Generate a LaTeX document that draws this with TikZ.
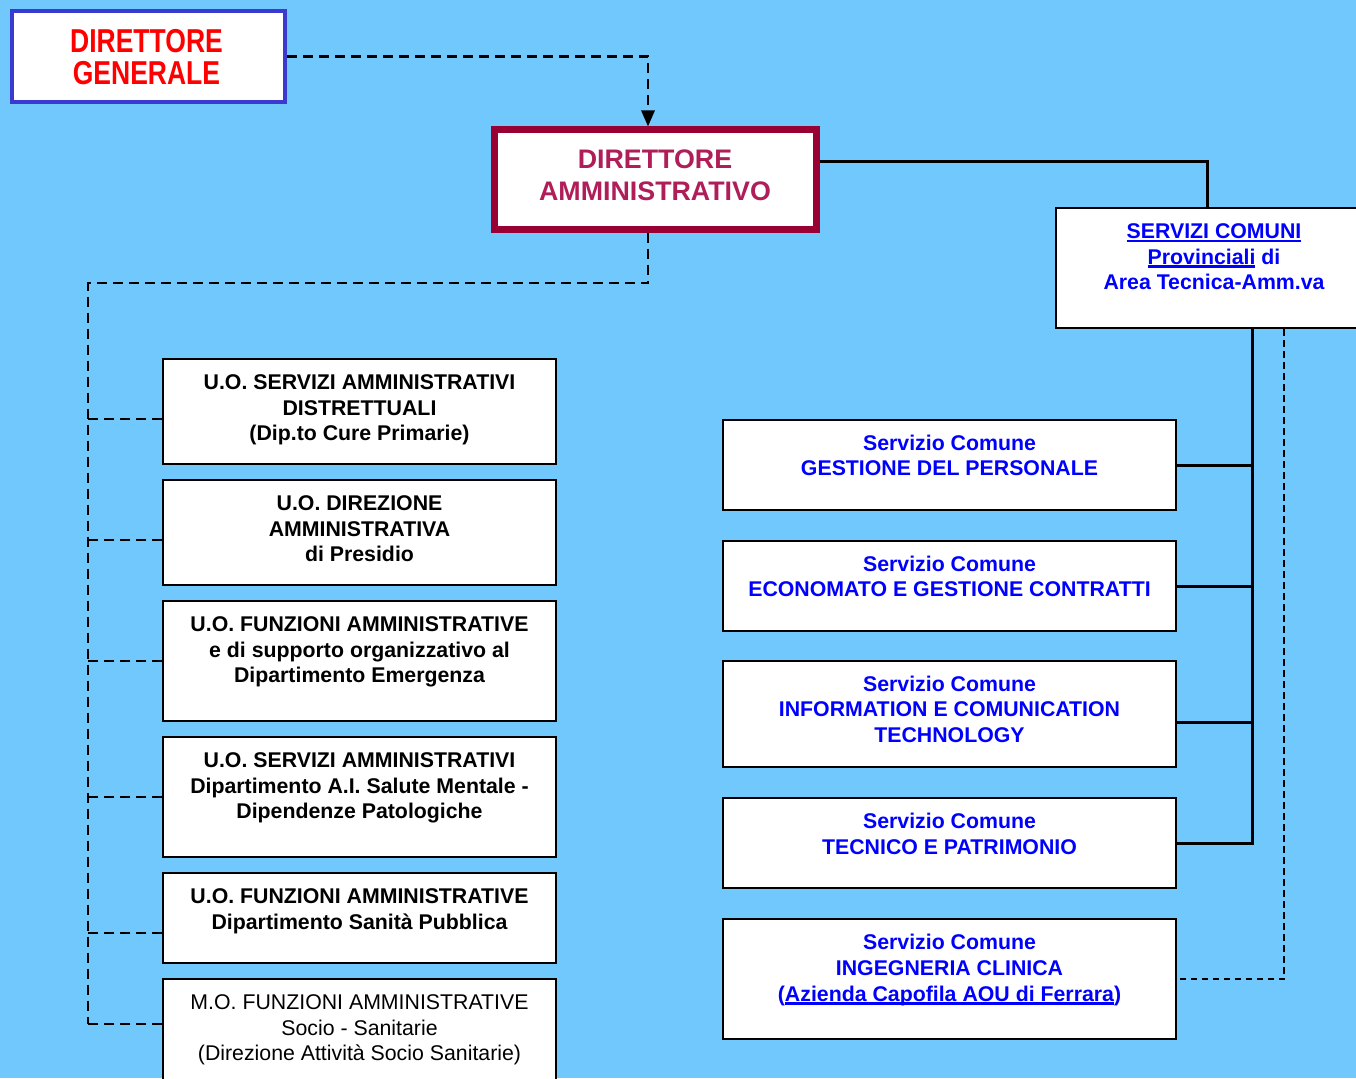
\documentclass[tikz,border=0pt]{standalone}
\usepackage{fontspec}
\usepackage{graphicx}
\setmainfont{Liberation Sans}
\usetikzlibrary{arrows.meta}
\definecolor{bgblue}{RGB}{113,200,252}
\definecolor{dgborder}{RGB}{58,58,208}
\definecolor{daborder}{RGB}{153,0,51}
\definecolor{datext}{RGB}{176,30,90}
\definecolor{sblue}{RGB}{0,0,255}
\newlength\myulw
\newcommand{\myul}[1]{\settowidth{\myulw}{#1}\rlap{\rule[-3.5pt]{\myulw}{2.4pt}}#1}
\tikzset{
  box/.style={draw=black, line width=2pt, fill=white, inner sep=0pt},
  lbox/.style={box, minimum width=393pt},
  rbox/.style={box, minimum width=453pt},
  txt/.style={inner sep=0pt, align=center, font=\fontsize{21.3}{25.6}\selectfont\bfseries},
  ltxt/.style={txt, text=black},
  rtxt/.style={txt, text=sblue},
  dl/.style={draw=black, line width=2.9pt, dash pattern=on 10pt off 6pt},
  tdl/.style={draw=black, line width=2.4pt, dash pattern=on 6.5pt off 4.5pt},
  sl/.style={draw=black, line width=3pt},
}
\begin{document}
\begin{tikzpicture}[x=1pt,y=-1pt]
\useasboundingbox (0,0) rectangle (1356,1078);
\fill[bgblue] (0,0) rectangle (1356,1078);
% top boxes
\node[draw=dgborder, line width=3.5pt, fill=white, minimum width=273pt, minimum height=91pt, inner sep=0pt] (dg) at (148.5,56.5) {};
\node[inner sep=0pt, align=center, text=red, font=\fontsize{26.5}{31.5}\selectfont\bfseries] (dgt) at (146.5,57) {\scalebox{1}[1.25]{DIRETTORE}\\\scalebox{1}[1.25]{GENERALE}};
\node[draw=daborder, line width=7pt, fill=white, minimum width=322pt, minimum height=99pt, inner sep=0pt] (da) at (655,179.5) {};
\node[inner sep=0pt, align=center, text=datext, font=\fontsize{26.8}{32}\selectfont\bfseries] (dat) at (655,175) {DIRETTORE\\AMMINISTRATIVO};
\node[box, minimum width=314pt, minimum height=120pt] (sc) at (1213,268) {};
\node[rtxt] (sct) at (1214,257) {\myul{SERVIZI COMUNI}\\\myul{Provinciali} di\\Area Tecnica-Amm.va};
% left boxes
\node[lbox, minimum height=105pt] (l1) at (359.5,411.5) {};
\node[ltxt] (l1t) at (359.5,410) {U.O. SERVIZI AMMINISTRATIVI\\DISTRETTUALI\\(Dip.to Cure Primarie)};
\node[lbox, minimum height=105pt] (l2) at (359.5,532.5) {};
\node[ltxt] (l2t) at (359.5,529) {U.O. DIREZIONE\\AMMINISTRATIVA\\di Presidio};
\node[lbox, minimum height=120pt] (l3) at (359.5,661) {};
\node[ltxt] (l3t) at (359.5,652) {U.O. FUNZIONI AMMINISTRATIVE\\e di supporto organizzativo al\\Dipartimento Emergenza};
\node[lbox, minimum height=120pt] (l4) at (359.5,797) {};
\node[ltxt] (l4t) at (359.5,788) {U.O. SERVIZI AMMINISTRATIVI\\Dipartimento A.I. Salute Mentale -\\Dipendenze Patologiche};
\node[lbox, minimum height=90pt] (l5) at (359.5,918) {};
\node[ltxt] (l5t) at (359.5,911.5) {U.O. FUNZIONI AMMINISTRATIVE\\Dipartimento Sanità Pubblica};
\node[lbox, minimum height=120pt] (l6) at (359.5,1039) {};
\node[ltxt, font=\fontsize{21.3}{25.6}\selectfont] (l6t) at (359.5,1030) {M.O. FUNZIONI AMMINISTRATIVE\\Socio - Sanitarie\\(Direzione Attività Socio Sanitarie)};
% right boxes
\node[rbox, minimum height=90pt] (r1) at (949.5,465) {};
\node[rtxt] (r1t) at (949.5,455.5) {Servizio Comune\\GESTIONE DEL PERSONALE};
\node[rbox, minimum height=90pt] (r2) at (949.5,586) {};
\node[rtxt] (r2t) at (949.5,576.5) {Servizio Comune\\ECONOMATO E GESTIONE CONTRATTI};
\node[rbox, minimum height=106pt] (r3) at (949.5,714) {};
\node[rtxt] (r3t) at (949.5,709) {Servizio Comune\\INFORMATION E COMUNICATION\\TECHNOLOGY};
\node[rbox, minimum height=90pt] (r4) at (949.5,843) {};
\node[rtxt] (r4t) at (949.5,834) {Servizio Comune\\TECNICO E PATRIMONIO};
\node[rbox, minimum height=120pt] (r5) at (949.5,979) {};
\node[rtxt] (r5t) at (949.5,970) {Servizio Comune\\INGEGNERIA CLINICA\\(\myul{Azienda Capofila AOU di Ferrara})};
% connectors
\draw[dl, -{Triangle[length=16pt,width=13pt]}] (dg.east) -| ([xshift=-7pt]da.north);
\draw[sl] ([yshift=17.5pt]da.east) -| ([xshift=-6pt]sc.north);
\coordinate (lb) at (88,283);
\draw[dl] ([xshift=-7pt]da.south) |- (lb) -- (lb |- 0,1024);
\draw[dl] ([yshift=-7.5pt]l1.west) -- ([yshift=-7.5pt]l1.west -| lb);
\draw[dl] ([yshift=-7.5pt]l2.west) -- ([yshift=-7.5pt]l2.west -| lb);
\draw[dl] (l3.west) -- (l3.west -| lb);
\draw[dl] (l4.west) -- (l4.west -| lb);
\draw[dl] ([yshift=-15pt]l5.west) -- ([yshift=-15pt]l5.west -| lb);
\draw[dl] ([yshift=15pt]l6.west) -- ([yshift=15pt]l6.west -| lb);
\coordinate (rb) at ([xshift=39pt]sc.south);
\draw[sl] (rb) -- (rb |- r4.east) -- (r4.east);
\draw[sl] (r1.east) -- (r1.east -| rb);
\draw[sl] (r2.east) -- (r2.east -| rb);
\draw[sl] ([yshift=-8pt]r3.east) -- ([yshift=-8pt]r3.east -| rb);
\coordinate (rd) at ([xshift=71pt]sc.south);
\draw[tdl] (rd) |- (r5.east);
\end{tikzpicture}
\end{document}
